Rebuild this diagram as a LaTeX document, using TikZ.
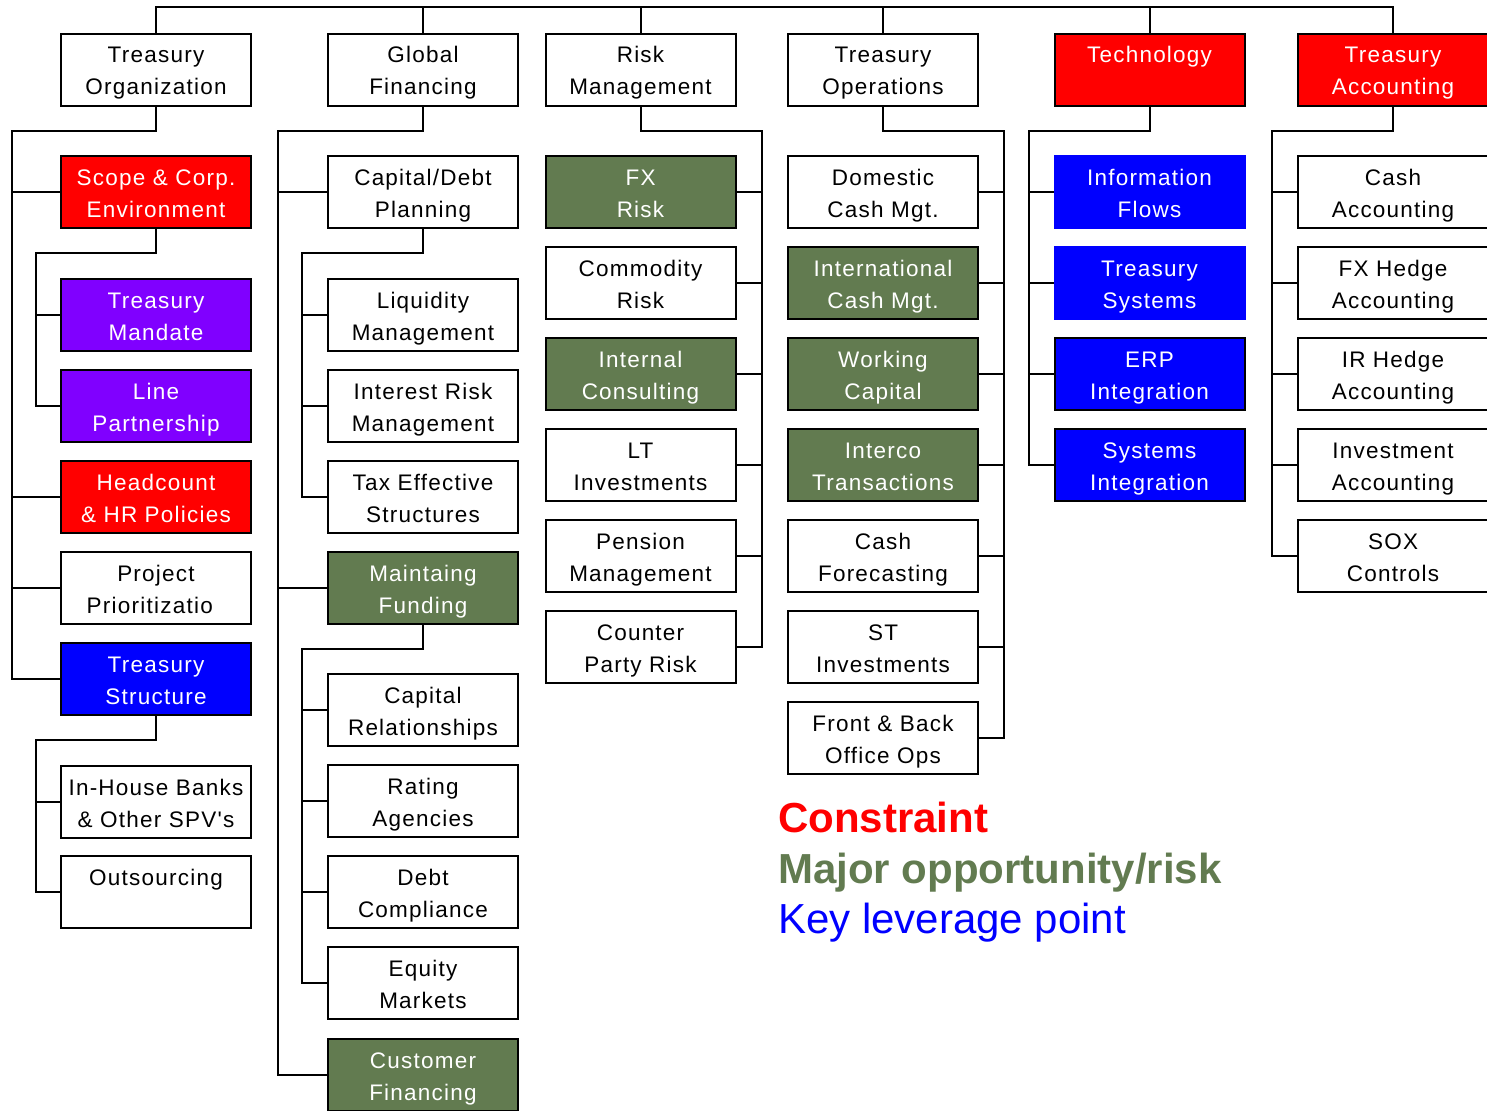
\documentclass[tikz,border=0pt]{standalone}
\usepackage{fontspec}
\usepackage{xcolor}
\usepackage{tikz}
\setmainfont{Liberation Sans}
\newfontfamily\boxfont[LetterSpace=5.5]{Liberation Sans}
\definecolor{oppgreen}{RGB}{98,123,80}
\definecolor{mandpurple}{RGB}{128,0,255}
\tikzset{
  box/.style={draw=black, line width=2pt, minimum width=190pt, minimum height=72pt,
    inner sep=1pt, align=center, text height=57pt, text depth=7pt,
    font=\boxfont\fontsize{22.5}{32}\selectfont},
  redbox/.style={box, fill=red, text=white},
  greenbox/.style={box, fill=oppgreen, text=white},
  purplebox/.style={box, fill=mandpurple, text=white},
  bluebox/.style={box, fill=blue, text=white},
  blueflat/.style={bluebox, draw=blue},
  link/.style={line width=2pt},
  legend/.style={anchor=base west, inner sep=0pt, font=\fontsize{42}{50}\selectfont},
  legendbold/.style={legend, font=\fontsize{42}{50}\selectfont\bfseries}
}

\begin{document}
\begin{tikzpicture}[x=1pt, y=-1pt]
    \useasboundingbox (0,0) rectangle (1487,1110);
    % top row
    \node[box] (org) at (156,70) {Treasury\\Organization};
    \node[box] (fin) at (423,70) {Global\\Financing};
    \node[box] (risk) at (640.5,70) {Risk\\Management};
    \node[box] (ops) at (883,70) {Treasury\\Operations};
    \node[redbox] (tech) at (1149.5,70) {Technology\\\mbox{}};
    \node[redbox] (tacc) at (1393,70) {Treasury\\Accounting};
    % organization
    \node[redbox] (scope) at (156,192) {Scope \& Corp.\\Environment};
    \node[purplebox] (mand) at (156,315) {Treasury\\Mandate};
    \node[purplebox] (line) at (156,406) {Line\\Partnership};
    \node[redbox] (hc) at (156,497) {Headcount\\\& HR Policies};
    \node[box] (proj) at (156,588) {Project\\Prioritizatio\phantom{n}};
    \node[bluebox] (tstruct) at (156,679) {Treasury\\Structure};
    \node[box] (ihb) at (156,802) {In-House Banks\\\& Other SPV's};
    \node[box] (outs) at (156,892) {Outsourcing\\\mbox{}};
    % financing
    \node[box] (cdp) at (423,192) {Capital/Debt\\Planning};
    \node[box] (liq) at (423,315) {Liquidity\\Management};
    \node[box] (irm) at (423,406) {Interest Risk\\Management};
    \node[box] (tax) at (423,497) {Tax Effective\\Structures};
    \node[greenbox] (mfund) at (423,588) {Maintaing\\Funding};
    \node[box] (caprel) at (423,710) {Capital\\Relationships};
    \node[box] (rating) at (423,801) {Rating\\Agencies};
    \node[box] (debt) at (423,892) {Debt\\Compliance};
    \node[box] (equity) at (423,983) {Equity\\Markets};
    \node[greenbox] (cust) at (423,1075) {Customer\\Financing};
    % risk
    \node[greenbox] (fx) at (640.5,192) {FX\\Risk};
    \node[box] (comm) at (640.5,283) {Commodity\\Risk};
    \node[greenbox] (cons) at (640.5,374) {Internal\\Consulting};
    \node[box] (lti) at (640.5,465) {LT\\Investments};
    \node[box] (pens) at (640.5,556) {Pension\\Management};
    \node[box] (cpr) at (640.5,647) {Counter\\Party Risk};
    % operations
    \node[box] (dcm) at (883,192) {Domestic\\Cash Mgt.};
    \node[greenbox] (icm) at (883,283) {International\\Cash Mgt.};
    \node[greenbox] (wcap) at (883,374) {Working\\Capital};
    \node[greenbox] (interco) at (883,465) {Interco\\Transactions};
    \node[box] (fcst) at (883,556) {Cash\\Forecasting};
    \node[box] (sti) at (883,647) {ST\\Investments};
    \node[box] (fbo) at (883,738) {Front \& Back\\Office Ops};
    % technology
    \node[blueflat] (info) at (1149.5,192) {Information\\Flows};
    \node[blueflat] (tsys) at (1149.5,283) {Treasury\\Systems};
    \node[bluebox] (erp) at (1149.5,374) {ERP\\Integration};
    \node[bluebox] (sint) at (1149.5,465) {Systems\\Integration};
    % accounting
    \node[box] (cacc) at (1393,192) {Cash\\Accounting};
    \node[box] (fxh) at (1393,283) {FX Hedge\\Accounting};
    \node[box] (irh) at (1393,374) {IR Hedge\\Accounting};
    \node[box] (inv) at (1393,465) {Investment\\Accounting};
    \node[box] (sox) at (1393,556) {SOX\\Controls};

    \draw[link] (org.north) -- ++(0,-26) -| (tacc.north);
    \foreach \n in {fin,risk,ops,tech}
        \draw[link] (\n.north) -- ++(0,-26);

    \draw[link] (org.south) -- ++(0,24) -| ([xshift=-48pt]tstruct.west) -- (tstruct.west);
    \foreach \n in {scope,hc,proj}
        \draw[link] (\n.west) -- ++(-48,0);
    \draw[link] (scope.south) -- ++(0,24) -| ([xshift=-24pt]line.west) -- (line.west);
    \draw[link] (mand.west) -- ++(-24,0);
    \draw[link] (tstruct.south) -- ++(0,24) -| ([xshift=-24pt]outs.west) -- (outs.west);
    \draw[link] (ihb.west) -- ++(-24,0);

    \draw[link] (fin.south) -- ++(0,24) -| ([xshift=-49pt]cust.west) -- (cust.west);
    \foreach \n in {cdp,mfund}
        \draw[link] (\n.west) -- ++(-49,0);
    \draw[link] (cdp.south) -- ++(0,24) -| ([xshift=-25pt]tax.west) -- (tax.west);
    \foreach \n in {liq,irm}
        \draw[link] (\n.west) -- ++(-25,0);
    \draw[link] (mfund.south) -- ++(0,24) -| ([xshift=-25pt]equity.west) -- (equity.west);
    \foreach \n in {caprel,rating,debt}
        \draw[link] (\n.west) -- ++(-25,0);

    \draw[link] (risk.south) -- ++(0,24) -| ([xshift=25pt]cpr.east) -- (cpr.east);
    \foreach \n in {fx,comm,cons,lti,pens}
        \draw[link] (\n.east) -- ++(25,0);

    \draw[link] (ops.south) -- ++(0,24) -| ([xshift=25pt]fbo.east) -- (fbo.east);
    \foreach \n in {dcm,icm,wcap,interco,fcst,sti}
        \draw[link] (\n.east) -- ++(25,0);

    \draw[link] (tech.south) -- ++(0,24) -| ([xshift=-25pt]sint.west) -- (sint.west);
    \foreach \n in {info,tsys,erp}
        \draw[link] (\n.west) -- ++(-25,0);

    \draw[link] (tacc.south) -- ++(0,24) -| ([xshift=-25pt]sox.west) -- (sox.west);
    \foreach \n in {cacc,fxh,irh,inv}
        \draw[link] (\n.west) -- ++(-25,0);

    \node[legendbold, text=red] (lcon) at (778,832) {Constraint};
    \node[legendbold, text=oppgreen] (lopp) at (778,883) {Major opportunity/risk};
    \node[legend, text=blue] (lkey) at (778,933) {Key leverage point};
\end{tikzpicture}
\end{document}
